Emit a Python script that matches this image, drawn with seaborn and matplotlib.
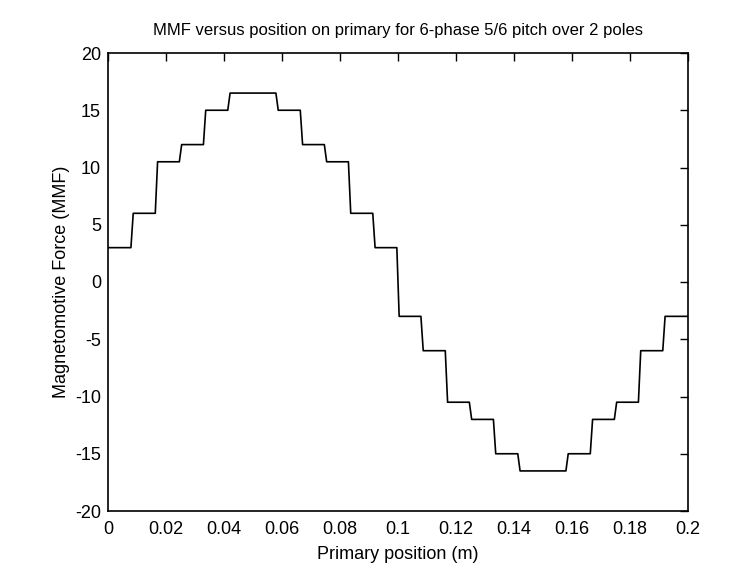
import matplotlib
matplotlib.use("Agg")
import matplotlib.pyplot as plt
import seaborn as sns
import pandas as pd
import numpy as np

# ---- data ----
# plateau boundaries (m) and MMF level on each plateau
plateau_starts = [0.0, 0.0083, 0.0167, 0.025, 0.0333, 0.0417, 0.0583, 0.0667, 0.075, 0.0833, 0.0917,
                  0.1, 0.1083, 0.1167, 0.125, 0.1333, 0.1417, 0.1583, 0.1667, 0.175, 0.1833, 0.1917]
plateau_end = 0.2
plateau_levels = [3, 6, 10.5, 12, 15, 16.5, 15, 12, 10.5, 6, 3,
                  -3, -6, -10.5, -12, -15, -16.5, -15, -12, -10.5, -6, -3]
x_ticks = [0, 0.02, 0.04, 0.06, 0.08, 0.1, 0.12, 0.14, 0.16, 0.18, 0.2]
x_tick_labels = ["0", "0.02", "0.04", "0.06", "0.08", "0.1", "0.12", "0.14", "0.16", "0.18", "0.2"]
y_ticks = [-20, -15, -10, -5, 0, 5, 10, 15, 20]

title = "MMF versus position on primary for 6-phase 5/6 pitch over 2 poles"
xlabel = "Primary position (m)"
ylabel = "Magnetomotive Force (MMF)"

# ---- build staircase vertices (short sloped edges between plateaus) ----
edge = 0.0008
ends = plateau_starts[1:] + [plateau_end]
xs, ys = [], []
for i, (s, e, lv) in enumerate(zip(plateau_starts, ends, plateau_levels)):
    xs.append(s if i == 0 else s + edge / 2)
    ys.append(lv)
    xs.append(e if i == len(plateau_levels) - 1 else e - edge / 2)
    ys.append(lv)
df = pd.DataFrame({"x": xs, "y": ys})

sns.set_theme(style="white")
plt.rcParams["font.family"] = ["Liberation Sans", "DejaVu Sans"]

fig = plt.figure(figsize=(7.45, 5.69), dpi=100)
fig.patch.set_facecolor("white")
ax = fig.add_axes([108 / 745, 1 - 511 / 569, (688 - 108) / 745, (511 - 53) / 569])

sns.lineplot(data=df, x="x", y="y", ax=ax, color="black", linewidth=1.2,
             estimator=None, sort=False)

ax.set_xlim(0, 0.2)
ax.set_ylim(-20, 20)
ax.set_xticks(x_ticks)
ax.set_xticklabels(x_tick_labels)
ax.set_yticks(y_ticks)
ax.set_yticklabels([str(t) for t in y_ticks])
ax.tick_params(axis="both", direction="in", length=6, width=1, top=True, right=True,
               labelsize=13, colors="black")
ax.tick_params(axis="x", pad=7)
ax.tick_params(axis="y", pad=5)
for sp in ax.spines.values():
    sp.set_color("black")
    sp.set_linewidth(1.2)
ax.set_facecolor("white")
ax.set_title(title, fontsize=12, color="black", pad=13)
ax.set_xlabel(xlabel, fontsize=13, color="black", labelpad=6)
ax.set_ylabel(ylabel, fontsize=13, color="black", labelpad=4)

fig.savefig("out.png", dpi=100, facecolor="white")
